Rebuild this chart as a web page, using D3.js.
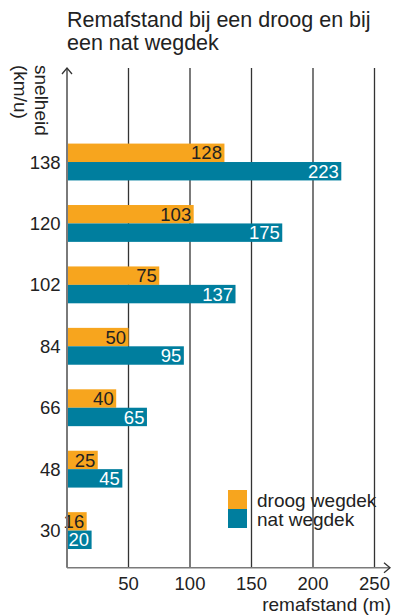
<!DOCTYPE html>
<html>
<head>
<meta charset="utf-8">
<script src="https://cdn.jsdelivr.net/npm/d3@7"></script>
<style>
  html, body { margin: 0; padding: 0; background: #fff; }
  svg { display: block; font-family: "Liberation Sans", Arial, sans-serif; }
</style>
</head>
<body>
<div id="chart"></div>
<script>
// speeds (km/u), top to bottom
var speeds = ['138', '120', '102', '84', '66', '48', '30'];
var droog = [128, 103, 75, 50, 40, 25, 16];
var nat = [223, 175, 137, 95, 65, 45, 20];
var xTicks = [50, 100, 150, 200, 250];
var seriesNames = ['droog wegdek', 'nat wegdek'];
var seriesColors = ['#f7a51e', '#007e9e'];

var width = 396, height = 615;

var svg = d3.select('#chart').append('svg')
    .attr('width', width)
    .attr('height', height);

var x = d3.scaleLinear().domain([0, 250]).range([67, 374.5]);
var y = d3.scaleBand().domain(speeds).range([131.3, 561.3])
    .paddingInner(0.4).paddingOuter(0.2);
var ySub = d3.scaleBand().domain([0, 1]).range([0, y.bandwidth()]);

var axisTop = 68, axisBottom = 567.7;

// title, two lines
svg.append('text')
    .attr('x', 67).attr('y', 27)
    .attr('font-size', 21.5).attr('fill', '#222')
    .text('Remafstand bij een droog en bij');
svg.append('text')
    .attr('x', 67).attr('y', 50)
    .attr('font-size', 21.5).attr('fill', '#222')
    .text('een nat wegdek');

// gridlines
svg.append('g').selectAll('line')
    .data(xTicks)
    .enter().append('line')
    .attr('x1', function (d) { return x(d); })
    .attr('x2', function (d) { return x(d); })
    .attr('y1', axisTop).attr('y2', axisBottom)
    .attr('stroke', '#333').attr('stroke-width', 1.3);

// bars
var groups = svg.append('g').selectAll('g')
    .data(speeds)
    .enter().append('g')
    .attr('transform', function (d) { return 'translate(0,' + y(d) + ')'; });

[droog, nat].forEach(function (vals, s) {
  groups.append('rect')
      .attr('x', x(0))
      .attr('y', ySub(s))
      .attr('width', function (d, i) { return x(vals[i]) - x(0); })
      .attr('height', ySub.bandwidth())
      .attr('fill', seriesColors[s]);

  groups.append('text')
      .attr('x', function (d, i) { return x(vals[i]) - 2.5; })
      .attr('y', ySub(s) + ySub.bandwidth() / 2 + 6.6)
      .attr('text-anchor', 'end')
      .attr('font-size', 18.5)
      .attr('fill', s === 0 ? '#222' : '#fff')
      .text(function (d, i) { return vals[i]; });
});

// y tick labels
svg.append('g').selectAll('text')
    .data(speeds)
    .enter().append('text')
    .attr('x', 60.5)
    .attr('y', function (d) { return y(d) + y.bandwidth() / 2 + 6.6; })
    .attr('text-anchor', 'end')
    .attr('font-size', 18.5).attr('fill', '#222')
    .text(function (d) { return d; });

// axes with arrows
var axisColor = '#7a7a7a';
svg.append('line')
    .attr('x1', x(0)).attr('x2', x(0))
    .attr('y1', axisTop).attr('y2', axisBottom)
    .attr('stroke', axisColor).attr('stroke-width', 2);
svg.append('line')
    .attr('x1', x(0)).attr('x2', 390)
    .attr('y1', axisBottom).attr('y2', axisBottom)
    .attr('stroke', axisColor).attr('stroke-width', 1.6);
svg.append('path')
    .attr('d', 'M' + (x(0) - 5) + ',' + (axisTop + 6) + 'L' + x(0) + ',' + axisTop + 'L' + (x(0) + 5) + ',' + (axisTop + 6))
    .attr('fill', 'none').attr('stroke', '#333').attr('stroke-width', 1.3);
svg.append('path')
    .attr('d', 'M384,' + (axisBottom - 5) + 'L390,' + axisBottom + 'L384,' + (axisBottom + 5))
    .attr('fill', 'none').attr('stroke', '#333').attr('stroke-width', 1.3);

// x tick labels
svg.append('g').selectAll('text')
    .data(xTicks)
    .enter().append('text')
    .attr('x', function (d) { return x(d); })
    .attr('y', 590)
    .attr('text-anchor', 'middle')
    .attr('font-size', 18.5).attr('fill', '#222')
    .text(function (d) { return d; });

svg.append('text')
    .attr('x', 391).attr('y', 611)
    .attr('text-anchor', 'end')
    .attr('font-size', 19).attr('fill', '#222')
    .text('remafstand (m)');

// y axis title (rotated)
svg.append('text')
    .attr('transform', 'translate(35,65) rotate(90)')
    .attr('font-size', 19).attr('fill', '#222')
    .text('snelheid');
svg.append('text')
    .attr('transform', 'translate(14,65) rotate(90)')
    .attr('font-size', 19).attr('fill', '#222')
    .text('(km/u)');

// legend
var legend = svg.append('g').selectAll('g')
    .data(seriesNames)
    .enter().append('g')
    .attr('transform', function (d, i) { return 'translate(228,' + (490 + i * 19) + ')'; });
legend.append('rect')
    .attr('width', 19).attr('height', 19)
    .attr('fill', function (d, i) { return seriesColors[i]; });
legend.append('text')
    .attr('x', 29).attr('y', 16.5)
    .attr('font-size', 19).attr('fill', '#222')
    .text(function (d) { return d; });
</script>
</body>
</html>
